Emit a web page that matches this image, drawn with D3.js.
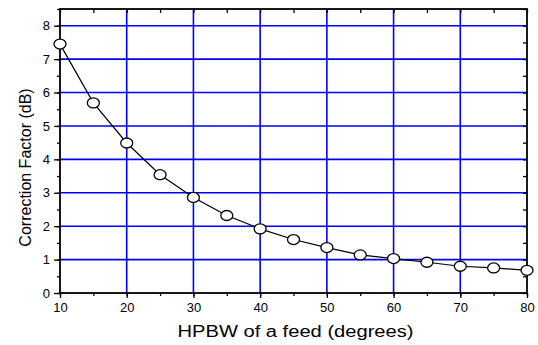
<!DOCTYPE html>
<html>
<head>
<meta charset="utf-8">
<script src="https://cdn.jsdelivr.net/npm/d3@7/dist/d3.min.js"></script>
<style>
  html, body { margin: 0; padding: 0; background: #fff; }
  svg { display: block; font-family: "Liberation Sans", Arial, sans-serif; }
</style>
</head>
<body>
<svg id="chart" width="538" height="345"></svg>
<script>
// HPBW of the feed (degrees) and the matching correction factor (dB)
const hpbw = [10, 15, 20, 25, 30, 35, 40, 45, 50, 55, 60, 65, 70, 75, 80];
const correction = [7.45, 5.69, 4.49, 3.54, 2.86, 2.32, 1.92, 1.60, 1.36, 1.14, 1.03, 0.92, 0.80, 0.75, 0.68];
const xTicks = [10, 20, 30, 40, 50, 60, 70, 80];
const yTicks = [0, 1, 2, 3, 4, 5, 6, 7, 8];
const xTitle = "HPBW of a feed (degrees)";
const yTitle = "Correction Factor (dB)";

const svg = d3.select("#chart");
const plotLeft = 60, plotRight = 527, plotTop = 9, plotBottom = 293;

const x = d3.scaleLinear().domain([10, 80]).range([plotLeft, plotRight]);
const y = d3.scaleLinear().domain([0, 8.5]).range([plotBottom, plotTop]);

const gridColor = "#0000ff";

// blue grid at the major ticks
svg.append("g").selectAll("line")
  .data(xTicks.filter(v => v > 10 && v < 80))
  .join("line")
  .attr("x1", d => x(d)).attr("x2", d => x(d))
  .attr("y1", plotTop).attr("y2", plotBottom)
  .attr("stroke", gridColor).attr("stroke-width", 1.6);

svg.append("g").selectAll("line")
  .data(yTicks.filter(v => v > 0))
  .join("line")
  .attr("x1", plotLeft).attr("x2", plotRight)
  .attr("y1", d => y(d)).attr("y2", d => y(d))
  .attr("stroke", gridColor).attr("stroke-width", 1.6);

// axes: bottom/left ticks outward, top/right ticks inward
const xMinor = d3.range(10, 80.1, 5);
const yMinor = d3.range(0, 8.51, 0.5);

function styleAxis(g) {
  g.select(".domain").remove();
  g.selectAll(".tick line").attr("stroke", "#000").attr("stroke-width", 1.3);
  g.selectAll("text").attr("fill", "#000").style("font-size", "13px");
}

svg.append("g").attr("transform", `translate(0,${plotBottom})`)
  .call(d3.axisBottom(x).tickValues(xMinor).tickSize(3).tickFormat(""))
  .call(styleAxis);
svg.append("g").attr("transform", `translate(0,${plotBottom})`)
  .call(d3.axisBottom(x).tickValues(xTicks).tickSize(5).tickPadding(5).tickFormat(d3.format("d")))
  .call(styleAxis);

svg.append("g").attr("transform", `translate(${plotLeft},0)`)
  .call(d3.axisLeft(y).tickValues(yMinor).tickSize(3).tickFormat(""))
  .call(styleAxis);
svg.append("g").attr("transform", `translate(${plotLeft},0)`)
  .call(d3.axisLeft(y).tickValues(yTicks).tickSize(6).tickPadding(4).tickFormat(d3.format("d")))
  .call(styleAxis);

svg.append("g").attr("transform", `translate(0,${plotTop})`)
  .call(d3.axisTop(x).tickValues(xMinor).tickSizeInner(-4).tickSizeOuter(0).tickFormat(""))
  .call(styleAxis);
svg.append("g").attr("transform", `translate(${plotRight},0)`)
  .call(d3.axisRight(y).tickValues(yMinor).tickSizeInner(-4).tickSizeOuter(0).tickFormat(""))
  .call(styleAxis);

// frame
svg.append("rect")
  .attr("x", plotLeft).attr("y", plotTop)
  .attr("width", plotRight - plotLeft).attr("height", plotBottom - plotTop)
  .attr("fill", "none").attr("stroke", "#000").attr("stroke-width", 1.8);

// data line and open markers
const pts = hpbw.map((h, i) => [h, correction[i]]);
svg.append("path")
  .datum(pts)
  .attr("d", d3.line().x(d => x(d[0])).y(d => y(d[1])))
  .attr("fill", "none").attr("stroke", "#000").attr("stroke-width", 1.2);

svg.append("g").selectAll("ellipse")
  .data(pts)
  .join("ellipse")
  .attr("cx", d => x(d[0])).attr("cy", d => y(d[1]))
  .attr("rx", 6).attr("ry", 5)
  .attr("fill", "#fff").attr("stroke", "#000").attr("stroke-width", 1.3);

// axis titles
svg.append("text")
  .attr("x", 295.5).attr("y", 337)
  .attr("text-anchor", "middle")
  .attr("textLength", 236).attr("lengthAdjust", "spacingAndGlyphs")
  .style("font-size", "16px").attr("fill", "#000")
  .text(xTitle);

svg.append("text")
  .attr("transform", "translate(31,167.5) rotate(-90)")
  .attr("text-anchor", "middle")
  .style("font-size", "16px").attr("fill", "#000")
  .text(yTitle);
</script>
</body>
</html>
